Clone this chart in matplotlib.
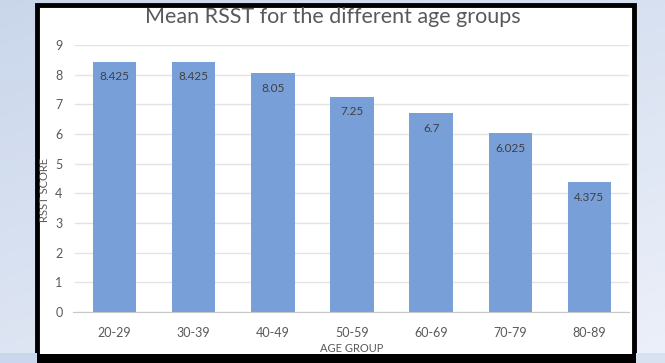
import numpy as np
import matplotlib
matplotlib.use("Agg")
import matplotlib.pyplot as plt
from matplotlib.patches import Rectangle

categories = ["20-29", "30-39", "40-49", "50-59", "60-69", "70-79", "80-89"]
values = [8.425, 8.425, 8.05, 7.25, 6.7, 6.025, 4.375]
value_labels = ["8.425", "8.425", "8.05", "7.25", "6.7", "6.025", "4.375"]
yticks = [0, 1, 2, 3, 4, 5, 6, 7, 8, 9]

plt.rcParams['font.family'] = ['Lato', 'DejaVu Sans']

W, H = 665, 363
fig = plt.figure(figsize=(W / 100, H / 100), dpi=100)

# background gradient
bg = fig.add_axes([0, 0, 1, 1], zorder=-10)
xs = np.linspace(0, 1, 200)
ys = np.linspace(0, 1, 120)
X, Y = np.meshgrid(xs, ys)
c0 = np.array([0.79, 0.84, 0.92])
c1 = np.array([0.95, 0.96, 0.99])
t = np.clip(0.35 * X + 0.5 * (1 - Y), 0, 1)
img = c0[None, None, :] * (1 - t[..., None]) + c1[None, None, :] * t[..., None]
bg.imshow(img, extent=[0, 1, 0, 1], aspect='auto', origin='lower')
bg.set_axis_off()

# black frame with white inside
fig.patches.append(Rectangle((37 / W, -0.05), (634 - 37) / W, 1.05 - 5 / H,
                             transform=fig.transFigure, facecolor='white',
                             edgecolor='black', linewidth=3.5, zorder=-5))

ax = fig.add_axes([75 / W, 1 - 312 / H, (629 - 75) / W, (312 - 45) / H])
ax.set_facecolor('none')
x = np.arange(len(categories))
bars = ax.bar(x, values, width=0.55, color='#789fd8', zorder=3)
for xi, v, lab in zip(x, values, value_labels):
    ax.text(xi, v - 0.5, lab, ha='center', va='center', fontsize=8.5,
            color='#404040', zorder=4)

ax.set_xlim(-0.5, len(categories) - 0.5)
ax.set_ylim(0, 9)
ax.set_yticks(yticks)
ax.set_xticks(x)
ax.set_xticklabels(categories)
ax.yaxis.grid(True, color='#e3e3e3', linewidth=1, zorder=0)
ax.tick_params(axis='both', length=0, labelsize=9, colors='#595959')
ax.tick_params(axis='x', pad=11)
ax.tick_params(axis='y', pad=9)
for s in ['top', 'right', 'left']:
    ax.spines[s].set_visible(False)
ax.spines['bottom'].set_color('#c8c8c8')
ax.spines['bottom'].set_bounds(-0.52, len(categories) - 0.5)
ax.spines['bottom'].set_zorder(5)

fig.text(333 / W, 1 - 17 / H, "Mean RSST for the different age groups",
         ha='center', va='center', fontsize=15.5, color='#595959')
fig.text(352 / W, 1 - 349 / H, "AGE GROUP", ha='center', va='center',
         fontsize=8, color='#595959')
fig.text(45 / W, 1 - 190 / H, "RSST SCORE", ha='center', va='center',
         fontsize=8, color='#595959', rotation=90)

# bottom black band (covers part of the axis title as in the reference)
fig.patches.append(Rectangle((0, 0), 1, 9.5 / H, transform=fig.transFigure,
                             facecolor='black', edgecolor='none', zorder=10))
fig.patches.append(Rectangle((0, 0), 37 / W, 10 / H, transform=fig.transFigure,
                             facecolor='#c9d6eb', edgecolor='none', zorder=11))
fig.patches.append(Rectangle((636 / W, 0), 1, 10 / H, transform=fig.transFigure,
                             facecolor='#d8e1f0', edgecolor='none', zorder=11))

fig.savefig("out.png", dpi=100)
